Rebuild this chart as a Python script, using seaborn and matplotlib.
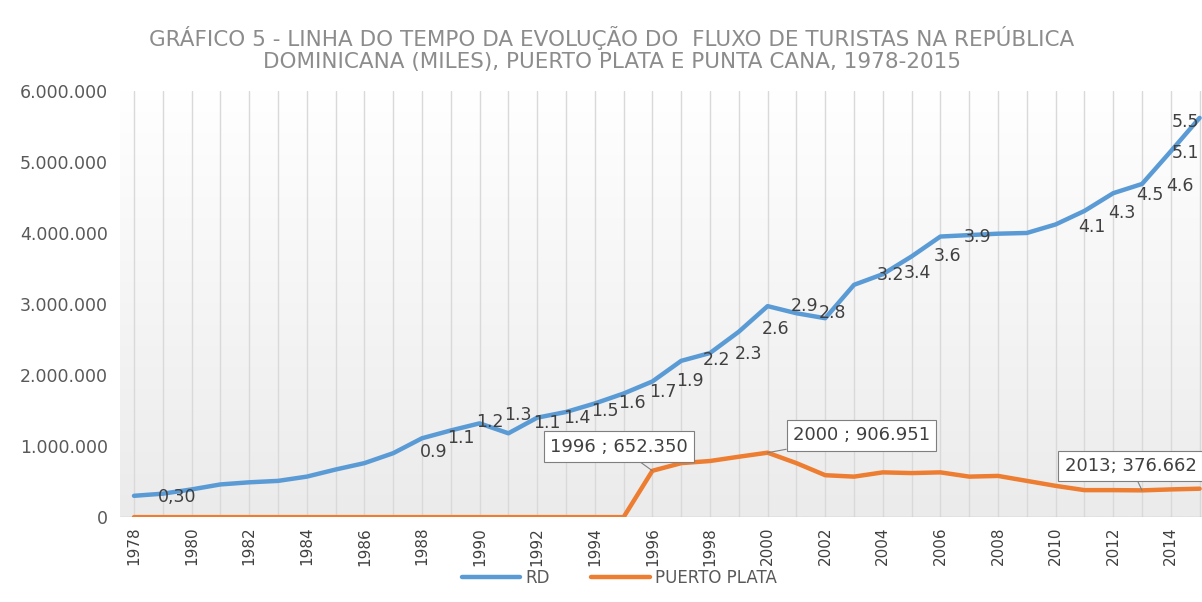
import numpy as np
import pandas as pd
import seaborn as sns
import matplotlib.pyplot as plt
from matplotlib.colors import LinearSegmentedColormap
from matplotlib.lines import Line2D

# Data
years = list(range(1978, 2016))
rd = [300000, 330000, 390000, 460000, 490000, 510000, 570000, 670000, 760000, 900000,
      1110000, 1220000, 1320000, 1180000, 1400000, 1480000, 1600000, 1740000, 1910000, 2200000,
      2310000, 2610000, 2970000, 2870000, 2800000, 3270000, 3420000, 3670000, 3950000, 3970000,
      3990000, 4000000, 4120000, 4310000, 4560000, 4690000, 5150000, 5620000]
puerto_plata = [0] * 18 + [652350, 760000, 790000, 850000, 906951,
                           760000, 590000, 570000, 630000, 620000,
                           630000, 570000, 580000, 510000, 440000,
                           380000, 380000, 376662, 390000, 400000]

# loose data labels in millions, as they sit on the original
label_text = ['0,30', '0.9', '1.1', '1.2', '1.3', '1.1', '1.4', '1.5', '1.6', '1.7', '1.9',
              '2.2', '2.3', '2.6', '2.9', '2.8', '3.2', '3.4', '3.6', '3.9',
              '4.1', '4.3', '4.5', '4.6', '5.1', '5.5']
label_x = [1979.5, 1988.4, 1989.35, 1990.36, 1991.33, 1992.34, 1993.38, 1994.35, 1995.29, 1996.37, 1997.3,
           1998.24, 1999.32, 2000.29, 2001.3, 2002.27, 2004.25, 2005.2, 2006.26, 2007.3,
           2011.26, 2012.3, 2013.28, 2014.3, 2014.5, 2014.5]
label_y = [0.28, 0.92, 1.11, 1.34, 1.44, 1.32, 1.39, 1.49, 1.61, 1.76, 1.92,
           2.21, 2.30, 2.65, 2.97, 2.87, 3.41, 3.44, 3.68, 3.94,
           4.09, 4.28, 4.53, 4.66, 5.13, 5.56]

callout_years = [1996, 2000, 2013]
callout_text = ['1996 ; 652.350', '2000 ; 906.951', '2013; 376.662']
callout_pos = [(1994.84, 0.99e6), (2003.26, 1.15e6), (2012.6, 0.72e6)]

df = pd.DataFrame({'year': years * 2,
                   'turistas': rd + puerto_plata,
                   'serie': ['RD'] * len(years) + ['PUERTO PLATA'] * len(years)})

sns.set_style('white')
plt.rcParams['font.family'] = ['DejaVu Sans']

blue = '#5B9BD5'
orange = '#ED7D31'

fig = plt.figure(figsize=(12.02, 6.02), dpi=100)
# right edge runs past the canvas, like the cropped original
ax = fig.add_axes([0.0995, 0.141, 0.9105, 0.708])

# soft gradient background of the plot area
grad = LinearSegmentedColormap.from_list('bg', ['#ffffff', '#ebebeb'])
ax.imshow(np.linspace(0, 1, 256).reshape(-1, 1), cmap=grad, aspect='auto',
          extent=[0, 1, 0, 1], transform=ax.transAxes, zorder=0)

for y in years:
    ax.axvline(y, color='#d9d9d9', lw=1, zorder=1)

sns.lineplot(data=df, x='year', y='turistas', hue='serie',
             palette={'RD': blue, 'PUERTO PLATA': orange},
             linewidth=3.2, legend=False, ax=ax, zorder=3)

ax.set_xlim(1977.5, 2015.5)
ax.set_ylim(0, 6000000)
ax.axhline(0, color='#bfbfbf', lw=1, zorder=2)

ax.set_yticks(range(0, 6000001, 1000000))
ax.set_yticklabels(['0'] + ['{:,}'.format(v).replace(',', '.') for v in range(1000000, 6000001, 1000000)])
ax.set_xticks(years[::2])
ax.set_xticklabels([str(y) for y in years[::2]], rotation=90)
ax.tick_params(axis='y', length=0, pad=8.5, labelsize=12.5, labelcolor='#595959')
ax.tick_params(axis='x', length=0, pad=7, labelsize=11, labelcolor='#404040')
ax.set_xlabel('')
ax.set_ylabel('')
sns.despine(ax=ax, left=True, bottom=True, top=True, right=True)

for t, x, y in zip(label_text, label_x, label_y):
    ax.text(x, y * 1e6, t, ha='center', va='center', fontsize=12.5, color='#404040', zorder=4)

for yr, t, pos in zip(callout_years, callout_text, callout_pos):
    val = df[(df.serie == 'PUERTO PLATA') & (df.year == yr)].turistas.iloc[0]
    ax.annotate(t, xy=(yr, val), xytext=pos, ha='center', va='center',
                fontsize=13, color='#404040', zorder=5,
                bbox=dict(boxstyle='square,pad=0.35', fc='white', ec='#7f7f7f', lw=0.8),
                arrowprops=dict(arrowstyle='-', color='#7f7f7f', lw=0.8, shrinkA=0, shrinkB=0))

fig.text(0.509, 0.919,
         'GRÁFICO 5 - LINHA DO TEMPO DA EVOLUÇÃO DO  FLUXO DE TURISTAS NA REPÚBLICA\n'
         'DOMINICANA (MILES), PUERTO PLATA E PUNTA CANA, 1978-2015',
         ha='center', va='center', fontsize=15.5, color='#8c8c8c', linespacing=1.13)

handles = [Line2D([], [], color=blue, lw=3.2), Line2D([], [], color=orange, lw=3.2)]
fig.legend(handles, ['RD', 'PUERTO PLATA'], loc='center', bbox_to_anchor=(0.515, 0.04),
           ncol=2, frameon=False, fontsize=12, handlelength=3.5, handletextpad=0.3,
           columnspacing=2.5, labelcolor='#595959')

fig.savefig('out.png', dpi=100)
